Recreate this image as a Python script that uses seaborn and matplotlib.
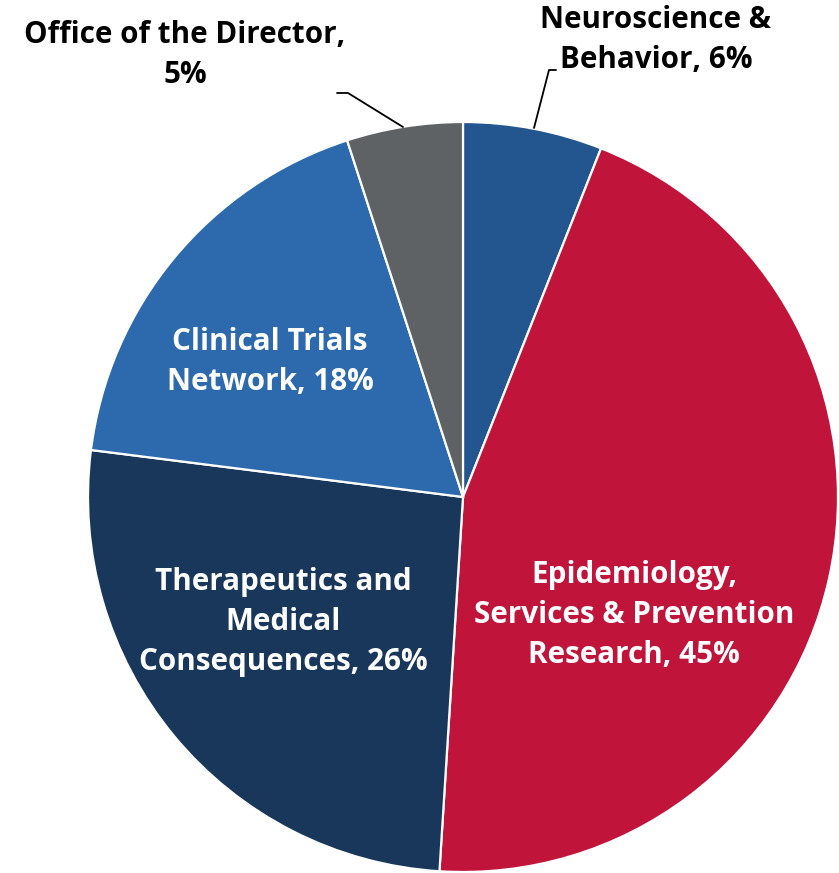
import matplotlib
matplotlib.use("Agg")
import matplotlib.pyplot as plt
import seaborn as sns

# slices, clockwise from the top
labels = ["Neuroscience &\nBehavior, 6%",
          "Epidemiology,\nServices & Prevention\nResearch, 45%",
          "Therapeutics and\nMedical\nConsequences, 26%",
          "Clinical Trials\nNetwork, 18%",
          "Office of the Director,\n5%"]
shares = [6, 45, 26, 18, 5]
colors = ["#23568e", "#c0143b", "#19375b", "#2c69ad", "#5f6265"]

sns.set_theme(style="white")
plt.rcParams["font.family"] = ["Open Sans", "DejaVu Sans"]

W, H = 839, 873
fig = plt.figure(figsize=(W / 100, H / 100), dpi=100)
ax = fig.add_axes([0, 0, 1, 1])

cx, cy, r = 463, H - 497, 375
ax.pie(shares, colors=colors, startangle=90, counterclock=False,
       center=(cx, cy), radius=r, frame=True,
       wedgeprops=dict(edgecolor="white", linewidth=1.6))
ax.set_xlim(0, W)
ax.set_ylim(0, H)
ax.set_aspect("equal")
ax.axis("off")

fs = 21.3
ls = 1.42
# labels inside the slices
ax.text(634, H - 615, labels[1], color="white", fontsize=fs, fontweight="bold",
        ha="center", va="center", linespacing=ls)
ax.text(283, H - 622, labels[2], color="white", fontsize=fs, fontweight="bold",
        ha="center", va="center", linespacing=ls)
ax.text(270, H - 362, labels[3], color="white", fontsize=fs, fontweight="bold",
        ha="center", va="center", linespacing=ls)

# outside labels with leader lines
ax.text(185, H - 55, labels[4], color="black", fontsize=fs, fontweight="bold",
        ha="center", va="center", linespacing=ls)
ax.text(656, H - 40, labels[0], color="black", fontsize=fs, fontweight="bold",
        ha="center", va="center", linespacing=ls)
ax.plot([337, 348, 403], [H - 93, H - 93, H - 127], color="black", lw=1.3)
ax.plot([556, 549, 534], [H - 70, H - 70, H - 128], color="black", lw=1.3)

fig.savefig("out.png", dpi=100, facecolor="white")
